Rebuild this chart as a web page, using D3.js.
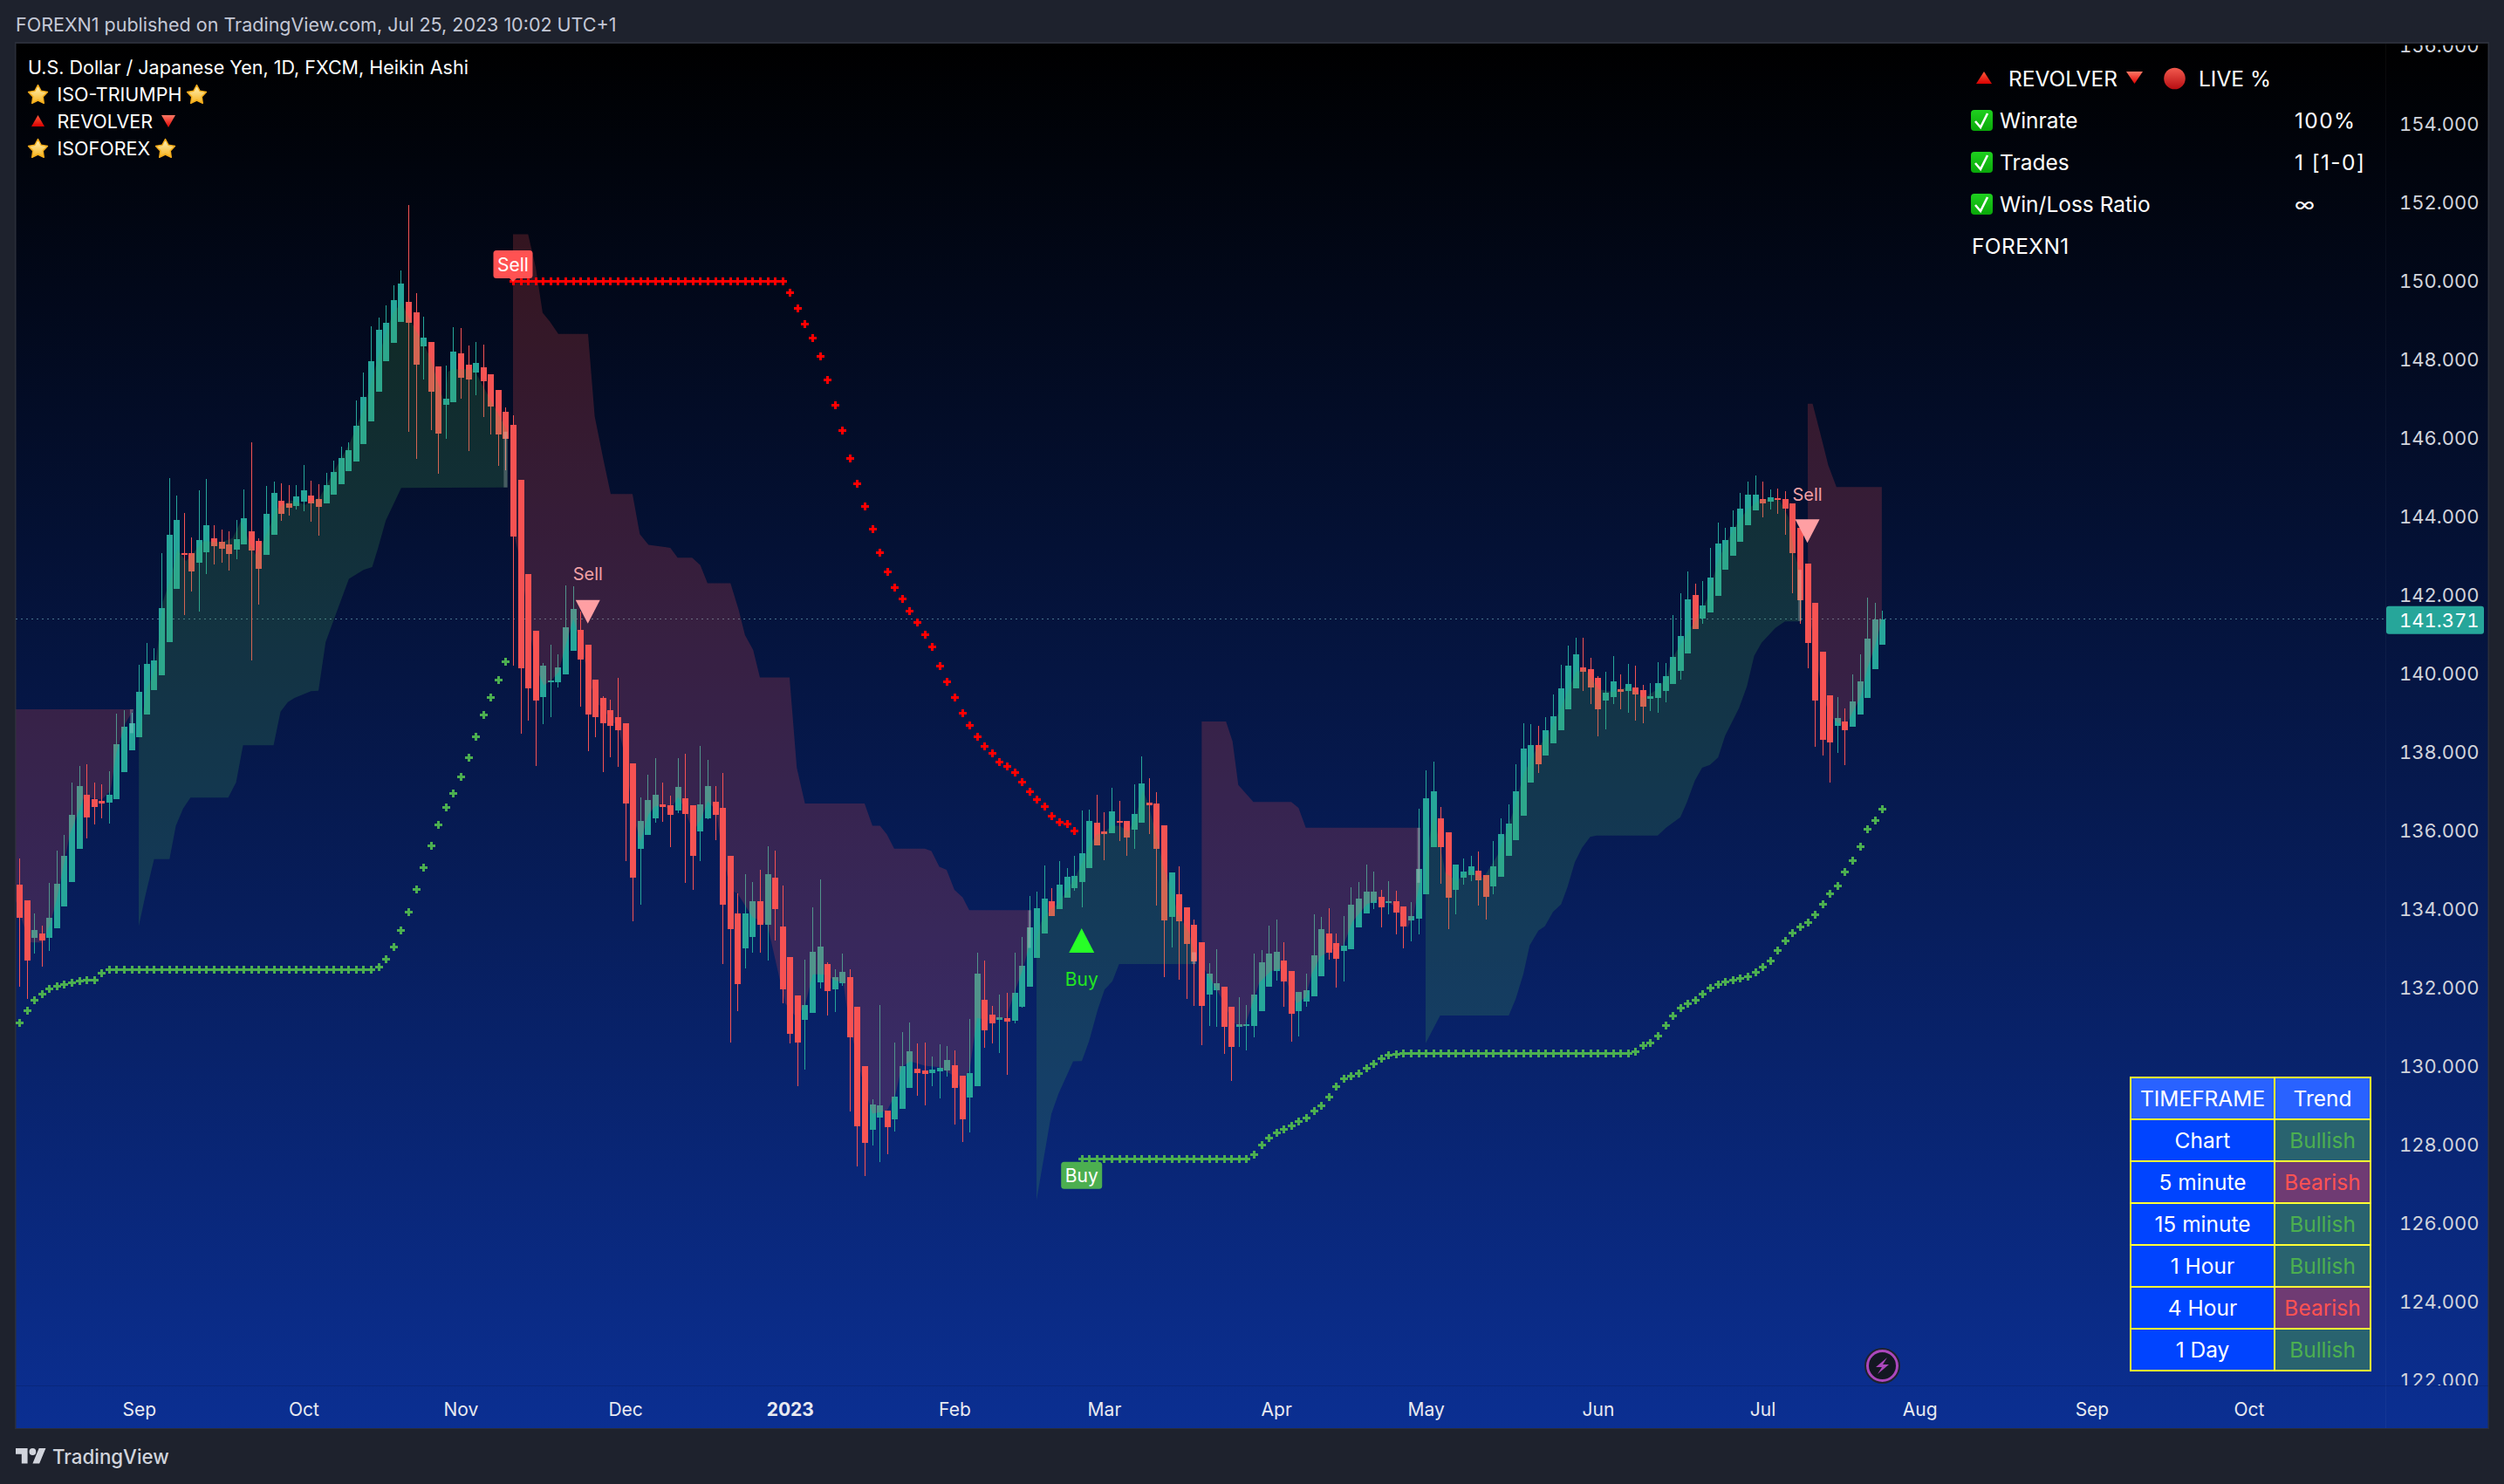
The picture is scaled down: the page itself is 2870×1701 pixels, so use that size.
<!DOCTYPE html>
<html><head><meta charset="utf-8"><title>USDJPY</title>
<script src="https://cdn.jsdelivr.net/npm/d3@7/dist/d3.min.js"></script>
<style>html,body{margin:0;padding:0;background:#1e222d}svg{display:block}text{font-family:Inter,Roboto,sans-serif}.tn{font-variant-numeric:tabular-nums}</style>
</head><body><svg id="c" width="2870" height="1701"></svg>
<script>
const opens=[134.62,134.22,133.27,133.38,133.27,133.51,134.07,134.69,135.53,136.91,136.80,136.75,136.71,136.80,137.49,138.04,138.38,138.95,139.58,139.95,140.80,142.15,143.07,143.07,142.82,143.09,143.44,143.36,143.29,143.16,143.29,143.62,143.38,143.02,143.53,144.40,144.33,144.27,144.38,144.53,144.44,144.33,144.56,144.82,145.16,145.40,145.84,146.42,147.18,147.96,148.42,148.96,149.47,149.20,148.33,148.44,147.82,146.85,146.92,148.15,147.87,147.67,147.80,147.62,147.22,146.67,146.33,144.93,142.53,141.09,139.41,139.79,139.77,139.97,140.57,141.11,140.74,139.84,139.38,139.07,138.89,138.73,137.71,135.53,135.89,136.32,136.67,136.65,136.51,136.83,136.65,135.98,136.32,136.74,136.58,135.35,133.9,133.0,133.3,134.2,133.6,134.8,133.56,132.78,131.80,131.18,131.36,132.14,132.60,131.96,132.11,132.27,131.51,130.00,128.38,128.69,128.87,128.65,128.91,129.45,129.94,129.89,129.83,129.87,129.89,130.03,129.76,129.20,129.49,131.69,131.31,131.18,131.23,131.16,131.51,132.02,132.76,133.38,134.20,134.00,134.29,134.53,134.69,135.04,136.20,135.98,135.93,136.24,136.24,136.02,136.20,136.71,136.69,136.13,133.80,134.38,134.05,133.60,133.16,131.82,131.93,132.02,131.51,131.00,131.02,131.02,131.40,132.02,132.42,132.69,132.42,131.40,131.64,131.78,132.29,133.38,133.13,132.93,132.98,133.53,133.89,134.16,134.31,134.16,134.20,134.07,133.71,133.76,134.38,135.58,136.31,135.96,134.49,134.80,134.87,134.98,134.87,134.58,134.82,135.36,135.76,136.38,137.22,138.18,137.91,138.22,138.56,139.09,139.62,140.16,140.11,139.89,139.31,139.40,139.60,139.56,139.64,139.58,139.36,139.38,139.56,139.73,140.07,140.51,142.0,141.40,141.55,141.97,142.64,143.00,143.35,143.77,144.15,144.44,144.38,144.47,144.44,144.33,143.71,142.80,141.80,140.56,139.44,138.67,138.78,138.64,138.96,139.38,140.11,140.73];
const highs=[135.29,134.22,133.89,133.58,134.67,135.49,135.89,137.22,137.64,137.69,137.22,137.18,137.51,138.98,139.07,139.00,140.22,140.78,140.64,143.07,144.98,144.53,144.09,143.47,144.67,144.95,143.78,143.67,143.62,143.91,144.69,145.89,143.44,144.78,144.89,144.84,144.80,144.80,145.31,144.91,144.82,145.11,145.42,145.78,145.89,146.96,147.67,148.84,149.07,149.38,149.89,150.27,151.93,149.69,149.09,148.44,147.82,147.85,148.82,148.80,148.36,148.45,148.38,147.62,147.22,146.78,146.58,144.93,142.53,141.09,140.26,140.74,140.49,142.25,142.22,141.57,140.74,139.84,139.42,139.33,139.89,138.73,137.71,136.85,137.43,137.85,137.22,136.88,137.85,137.96,136.65,138.15,137.80,137.13,137.46,135.35,134.4,134.9,134.7,135.0,135.6,135.5,134.6,132.78,131.80,132.71,134.05,134.76,132.65,132.47,132.87,132.47,131.51,130.00,129.16,131.56,128.87,130.60,130.87,131.11,130.58,130.60,130.25,130.56,130.51,130.40,129.76,131.20,132.89,132.69,131.54,131.82,131.87,132.89,133.29,134.33,134.45,135.11,134.53,135.22,135.04,135.36,136.51,136.53,136.91,136.47,137.09,136.76,136.24,137.18,137.89,137.33,136.98,136.13,134.93,135.09,134.05,133.73,133.16,132.62,132.98,132.02,131.51,131.76,131.56,132.87,132.96,133.58,133.73,133.16,132.42,131.89,132.36,133.87,133.80,134.02,133.38,133.82,134.55,134.69,135.13,134.96,134.49,134.71,134.47,134.07,134.18,136.56,137.53,137.76,136.60,135.96,135.13,135.29,135.36,135.47,134.87,135.73,136.31,136.67,137.69,138.73,138.71,138.67,138.89,139.47,140.22,140.71,140.91,140.91,140.40,139.93,140.04,140.44,139.98,140.24,140.20,139.71,139.76,140.29,140.27,141.49,142.04,142.6,142.3,142.35,143.20,143.84,143.71,144.15,144.60,144.89,145.04,144.89,144.69,144.71,144.64,144.33,143.71,142.80,141.80,140.56,139.44,139.40,139.11,139.98,140.49,141.93,141.80,141.60];
const lows=[132.02,131.71,132.87,132.53,132.93,133.51,134.07,134.69,135.53,135.80,136.15,136.31,136.18,136.80,137.49,138.04,138.38,138.95,139.58,139.95,140.80,142.15,141.49,142.09,141.58,142.53,142.78,142.82,142.62,142.91,143.29,140.33,141.76,143.02,143.53,143.89,144.02,144.18,144.13,143.87,143.51,144.33,144.56,144.82,145.16,145.40,145.84,146.42,147.18,147.96,148.42,148.96,146.16,145.47,147.49,146.20,145.10,145.97,146.92,146.99,145.66,147.10,146.54,146.08,145.30,145.17,140.19,138.46,138.79,137.65,138.72,138.88,139.64,139.97,140.57,139.16,138.03,138.37,137.50,137.86,137.63,135.22,133.69,134.12,135.89,136.21,136.23,135.58,136.44,134.66,134.50,135.23,136.29,135.75,132.6,130.6,131.4,132.5,132.9,132.9,132.7,133.2,131.6,130.58,129.49,129.91,131.36,131.98,131.29,131.38,132.05,128.85,127.45,127.20,127.98,127.56,127.76,128.34,128.91,129.45,129.25,129.00,129.49,129.18,129.74,128.51,128.07,128.31,129.49,130.47,130.58,130.34,129.78,131.09,131.49,132.02,132.76,133.38,133.82,134.00,134.29,134.47,134.05,135.04,135.62,135.24,135.93,135.73,135.36,135.53,136.20,135.91,134.09,132.27,133.02,132.20,131.71,131.53,130.53,131.02,131.00,130.31,129.62,130.49,130.40,130.73,131.40,132.02,132.18,131.51,130.62,130.76,131.51,131.78,132.29,132.71,132.00,132.16,132.98,133.53,133.89,134.00,133.53,133.87,133.36,133.00,133.18,133.36,134.38,135.58,134.64,133.49,133.87,134.62,134.71,134.09,133.73,134.38,134.82,135.36,135.76,136.38,137.22,137.47,137.91,138.22,138.56,139.09,139.62,139.56,139.22,138.40,138.58,139.22,139.09,139.00,138.80,138.73,139.04,139.00,139.27,139.73,139.84,140.51,141.13,141.27,141.55,141.97,142.64,143.00,143.35,143.77,144.15,143.97,144.18,144.07,143.53,142.04,141.27,140.13,138.13,137.91,137.22,137.98,137.67,138.64,138.96,139.38,140.11,140.73];
const closes=[133.78,132.69,133.47,133.20,133.78,134.64,135.35,136.40,137.13,136.33,136.60,136.69,136.91,138.20,138.64,138.73,139.53,140.24,140.33,141.67,143.53,143.91,143.02,142.60,143.40,143.78,143.24,143.18,143.04,143.42,143.96,143.13,142.67,144.07,144.60,144.07,144.22,144.51,144.67,144.33,144.24,144.80,145.13,145.49,145.69,146.31,147.04,147.96,148.76,148.93,149.51,149.93,148.93,147.87,148.56,147.18,146.12,146.99,148.20,147.53,147.48,147.92,147.44,146.80,146.09,145.98,143.49,140.14,139.62,139.32,140.21,139.83,140.16,141.18,141.65,140.36,138.95,138.90,138.74,138.67,138.56,136.68,134.79,136.25,136.78,136.91,136.60,136.40,137.11,136.42,135.35,136.67,137.13,136.40,134.11,133.5,132.1,133.9,134.2,133.6,134.9,134.0,131.96,130.82,130.60,131.56,132.91,133.05,131.91,132.27,132.40,130.74,128.47,128.05,129.03,129.00,128.45,129.23,130.00,130.38,129.83,129.80,129.91,129.96,130.16,129.45,128.65,129.83,132.36,130.91,131.09,131.25,131.13,131.87,132.56,133.53,134.02,134.27,133.82,134.62,134.82,134.84,135.42,136.24,135.62,135.91,136.49,136.20,135.82,136.42,137.20,136.64,135.53,133.71,134.93,133.69,133.11,132.67,131.53,132.36,132.11,131.00,130.49,131.07,131.07,131.82,132.64,132.87,132.91,132.16,131.33,131.89,131.93,132.82,133.49,132.89,132.73,133.07,134.11,134.27,134.44,134.44,134.05,134.20,133.91,133.56,133.82,135.02,136.82,137.00,135.58,134.29,135.13,134.96,135.09,134.73,134.31,135.09,135.91,136.18,137.00,138.09,138.18,137.69,138.56,138.91,139.62,140.20,140.49,140.04,139.64,139.09,139.51,139.80,139.53,139.73,139.47,139.16,139.42,139.76,139.93,140.42,140.96,141.9,141.13,141.73,142.44,143.31,143.40,143.73,144.20,144.55,144.55,144.33,144.49,144.42,144.20,143.07,141.87,140.78,139.31,138.31,138.24,138.87,138.56,139.29,139.80,140.89,141.38,141.37];

// Stop-line values: [first bar index, values...]
const greenStopA=[131.11,131.42,131.68,131.85,131.97,132.04,132.10,132.13,132.17,132.19,132.21,132.37,132.46,132.46,132.46,132.46,132.46,132.46,132.46,132.46,132.46,132.46,132.46,132.46,132.46,132.46,132.46,132.46,132.46,132.46,132.46,132.46,132.46,132.46,132.46,132.46,132.46,132.46,132.46,132.46,132.46,132.46,132.46,132.46,132.46,132.46,132.46,132.46,132.53,132.73,133.04,133.47,133.94,134.52,135.07,135.63,136.15,136.59,136.95,137.37,137.86,138.39,138.95,139.41,139.85,140.32];
const greenStopAStart=0;
const redStop=[150.01,150.01,150.01,150.01,150.01,150.01,150.01,150.01,150.01,150.01,150.01,150.01,150.01,150.01,150.01,150.01,150.01,150.01,150.01,150.01,150.01,150.01,150.01,150.01,150.01,150.01,150.01,150.01,150.01,150.01,150.01,150.01,150.01,150.01,150.01,150.01,150.01,149.71,149.30,148.92,148.55,148.10,147.48,146.84,146.19,145.48,144.85,144.26,143.69,143.1,142.6,142.2,141.9,141.6,141.3,141.0,140.7,140.2,139.8,139.4,139.0,138.7,138.4,138.15,137.97,137.75,137.64,137.48,137.24,136.99,136.79,136.62,136.37,136.22,136.17,135.99];
const redStopStart=66;
const greenStopB=[127.64,127.64,127.64,127.64,127.64,127.64,127.64,127.64,127.64,127.64,127.64,127.64,127.64,127.64,127.64,127.64,127.64,127.64,127.64,127.64,127.64,127.64,127.64,127.75,127.99,128.17,128.30,128.39,128.48,128.59,128.70,128.86,128.99,129.22,129.50,129.70,129.75,129.82,129.95,130.06,130.19,130.28,130.30,130.33,130.33,130.33,130.33,130.33,130.33,130.33,130.33,130.33,130.33,130.33,130.33,130.33,130.33,130.33,130.33,130.33,130.33,130.33,130.33,130.33,130.33,130.33,130.33,130.33,130.33,130.33,130.33,130.33,130.33,130.33,130.37,130.53,130.61,130.77,131.04,131.28,131.50,131.61,131.70,131.84,131.99,132.10,132.15,132.21,132.24,132.28,132.39,132.53,132.70,132.95,133.21,133.41,133.55,133.66,133.86,134.13,134.39,134.6,134.95,135.25,135.6,136.04,136.26,136.55];
const greenStopBStart=142;

// Cloud outlines as [bar index, price]
const cloudRedA=[[-0.43,139.09],[15.27,139.09],[14.14,138.71],[12.98,137.97],[12.2,137.01],[11.03,136.79],[8.7,136.86],[6.76,135.90],[5.05,134.27],[4.11,133.6],[3.07,133.15],[1.32,133.15],[-0.43,134.2]];
const cloudGreenB=[[15.97,133.56],[16.86,134.34],[18.03,135.27],[20.09,135.27],[20.94,136.12],[21.91,136.56],[22.89,136.84],[27.94,136.84],[28.99,137.23],[29.92,138.17],[34,138.17],[34.93,139.03],[35.91,139.27],[36.8,139.38],[39,139.55],[40,139.56],[40.96,140.80],[42.71,141.71],[44.07,142.41],[46.01,142.64],[47.18,142.71],[47.95,143.19],[49,143.90],[51.06,144.73],[65.26,144.74],[65.26,146.16],[64.68,146.38],[62.74,147.06],[60.79,147.75],[58.07,147.75],[57.29,147.69],[56.9,146.84],[54.95,148.04],[54,148.41],[52.03,149.08],[51.1,149.45],[49.9,149.16],[47.95,148.04],[46,146.71],[44.07,145.82],[42.1,145.16],[40.18,144.49],[38.24,144.3],[36.3,144.41],[34.35,144.19],[33.19,143.6],[31.63,143.01],[30.85,143.3],[29.69,143.9],[28.52,143.45],[26.97,143.34],[24.64,143.38],[22.3,142.86],[21.14,143.16],[20.36,142.49],[19.19,141.82],[18.65,140.86],[18.03,140.04],[17.06,139.6],[16,138.38]];
const cloudRedC=[[66,151.19],[68.02,151.19],[69.03,150.35],[69.96,149.19],[70.9,148.97],[72.06,148.65],[76.03,148.65],[76.92,146.55],[78.05,145.48],[79.06,144.57],[81.97,144.57],[82.95,143.55],[84.11,143.28],[86.05,143.23],[87.03,143.2],[88,142.95],[89.94,142.95],[91.03,142.76],[92,142.3],[95.07,142.3],[96.16,141.62],[97.01,140.98],[98.1,140.6],[99,139.9],[102.96,139.9],[103.93,137.6],[105.02,136.69],[112.99,136.69],[114.04,136.12],[115.05,136.12],[115.98,135.9],[116.95,135.54],[121.04,135.54],[121.93,135.48],[122.98,135.08],[123.95,135],[125,134.49],[126.09,134.3],[126.98,133.97],[135.22,133.97],[135.22,133.67],[135.03,133.08],[134.06,132.42],[133.08,131.9],[131.92,131.23],[129.59,131.16],[128.03,131.23],[127.02,129.9],[125.7,129.45],[124.92,129.75],[122.98,129.97],[121.04,130.01],[119.09,130.12],[117.93,129.97],[117.15,129.3],[115.98,128.86],[114.04,128.79],[112.87,129.53],[112.1,130.12],[110.93,131.08],[110.15,132.12],[108.99,132.19],[107.43,132.34],[106.07,132.34],[105.1,131.6],[103.93,131.23],[102.38,131.6],[100,133.6],[98,133.8],[96,134.4],[95.07,134.48],[94.02,135.39],[93.09,136.52],[92.04,136.75],[91.1,136.29],[90.06,135.95],[89.01,136.52],[88.08,136.86],[87.03,136.52],[86.09,136.63],[85.04,136.63],[84.11,136.41],[83.06,135.73],[82.01,136.41],[81.08,137.77],[80.03,138.67],[79.1,138.79],[78.05,139.13],[77.12,139.24],[76.07,139.92],[75.02,140.77],[74.08,141.4],[73.03,140.72],[72.1,140.04],[71.05,139.81],[70.12,139.7],[69.07,140.15],[68.02,141.4],[67.09,142.76],[66,143.66]];
const cloudGreenD=[[135.97,126.58],[137.95,128.78],[138.92,129.3],[140.87,130.12],[142.03,130.13],[143,130.64],[144.17,131.45],[145.07,131.95],[146.11,132.16],[147.01,132.6],[157.19,132.6],[157.19,132.79],[156.41,133.38],[154.86,133.9],[153.89,134.56],[153.03,135],[152.14,135.75],[150.97,136.64],[150.2,137.04],[149.22,136.34],[148.25,135.97],[147.09,136.12],[145.92,136.12],[144.95,135.93],[143.98,135.9],[143,135.6],[142.03,135.16],[141.06,134.79],[139.9,134.42],[138.73,134.12],[137.76,133.97],[136.59,133.67],[135.97,133.23]];
const cloudRedE=[[158.05,138.78],[161.3,138.78],[162.17,138.27],[162.94,137.16],[164.96,136.73],[170.02,136.73],[170.99,136.58],[171.96,136.07],[187.23,136.07],[187.23,134.71],[186.34,133.82],[185.56,133.53],[184.01,134.05],[182.06,134.27],[180.12,134.12],[178.18,133.67],[177.01,133.08],[175.85,133.01],[173.9,132.79],[172.74,132.34],[171.96,131.75],[170.79,131.6],[170.02,131.82],[168.85,132.49],[167.3,132.42],[165.74,132.12],[164.96,131.67],[163.8,131.01],[163.02,131.01],[162.05,131.16],[161.08,131.6],[159.52,132.12],[158.36,132.49],[158.05,133.23]];
const cloudGreenF=[[187.97,130.58],[189.92,131.29],[199.09,131.29],[200.02,131.71],[201.03,132.34],[201.89,133.08],[203.05,133.45],[203.91,133.56],[205,133.93],[206.09,134.12],[206.94,134.56],[207.91,135.19],[208.88,135.56],[209.97,135.84],[210.83,135.87],[218.99,135.87],[220.15,136.08],[222.02,136.34],[222.88,136.71],[223.96,137.27],[224.93,137.6],[225.98,137.67],[227.07,137.86],[228,138.41],[229.87,139.12],[230.92,139.67],[231.89,140.45],[232.9,140.79],[234.73,141.16],[236.01,141.33],[238.23,141.33],[238.23,141.9],[238.04,142.56],[237.26,143.08],[236.48,143.97],[235.31,144.41],[234.15,144.45],[232.59,144.41],[231.04,144.19],[229.87,143.9],[228.71,143.53],[227.15,142.93],[225.6,141.9],[224.82,141.6],[221.01,140.41],[220.15,139.9],[218.99,139.6],[217.05,139.38],[215.1,139.67],[213.08,139.53],[211.1,139.6],[209.27,140.12],[208.07,140.04],[206.16,139.16],[204.22,138.41],[202.67,138.04],[201.11,137.45],[199.56,136.41],[197.61,135.38],[195.67,134.79],[193.73,135.01],[192.17,134.71],[190.62,134.93],[189.06,136.41],[187.97,135.3]];
const cloudRedG=[[239.04,146.87],[239.7,146.87],[240.83,146.04],[241.8,145.3],[242.89,144.75],[248.95,144.75],[248.95,141.38],[248.06,140.71],[247.01,140.12],[246.08,139.38],[245.03,139.01],[244.1,138.64],[243.05,138.75],[242,138.93],[241.07,139.45],[240.02,140.56],[239.08,141.82]];
// Where two clouds overlap at a flip: [bar from, bar to, price top, price bottom]
const flipBands=[[14.8,15.27,139.09,138.48],[64.76,65.26,146.16,144.74],[134.83,135.22,133.97,133.01],[156.72,157.3,132.9,132.6],[186.84,187.23,136.07,134.67],[237.76,238.23,142.64,141.34]];

const yTicks=[122,124,126,128,130,132,134,136,138,140,142,144,146,148,150,152,154,156];
const xTickBars=[16,38,59,81,103,125,145,168,188,211,233,254,277,298];
const xTickLabels=["Sep","Oct","Nov","Dec","2023","Feb","Mar","Apr","May","Jun","Jul","Aug","Sep","Oct"];
const lastPrice=141.371;
// Signals: bar index plus the price of the marker's flat edge and of its caption
const sellBars=[76,239], sellEdge=[141.87,143.93], sellCaption=[142.53,144.56];
const buyBars=[142], buyEdge=[132.89], buyCaption=[132.21];
const tfNames=["Chart","5 minute","15 minute","1 Hour","4 Hour","1 Day"];
const tfTrend=["Bullish","Bearish","Bullish","Bullish","Bearish","Bullish"];

const svg=d3.select("#c");
const W=2870,H=1701;
const x=d3.scaleLinear().domain([0,249]).range([22,2157.3]);
const y=d3.scaleLinear().domain([122,154]).range([1582,142]);
const defs=svg.append("defs");
const bg=defs.append("linearGradient").attr("id","bg").attr("x1",0).attr("x2",0).attr("y1",0).attr("y2",1);
bg.append("stop").attr("offset",0).attr("stop-color","#000000");
bg.append("stop").attr("offset",1).attr("stop-color","#0b2f92");
function grad(id,a,b){const g=defs.append("linearGradient").attr("id",id).attr("x1",0).attr("x2",0).attr("y1",0).attr("y2",1);g.append("stop").attr("offset",0).attr("stop-color",a);g.append("stop").attr("offset",1).attr("stop-color",b);}
grad("gStar","#fff6c2","#f7b21c");grad("gUp","#ff5a3c","#d80000");grad("gDn","#ff7a66","#e00000");grad("gChk","#1fd01f","#09a809");grad("gRed","#f25a4e","#b80d12");
defs.append("clipPath").attr("id","plot").append("rect").attr("x",18).attr("y",50).attr("width",2716).attr("height",1538);
defs.append("clipPath").attr("id","pax").append("rect").attr("x",2735).attr("y",52).attr("width",116).attr("height",1536);

svg.append("rect").attr("width",W).attr("height",H).attr("fill","#1e222d");
svg.append("rect").attr("x",17).attr("y",48).attr("width",2836).attr("height",1590).attr("fill","#2a2e39");
svg.append("rect").attr("x",18.5).attr("y",50).attr("width",2833).attr("height",1587).attr("fill","url(#bg)");
svg.append("line").attr("x1",2734.5).attr("x2",2734.5).attr("y1",50).attr("y2",1637).attr("stroke","#ffffff").attr("stroke-opacity",0.04);
svg.append("line").attr("x1",18).attr("x2",2852).attr("y1",1588.5).attr("y2",1588.5).attr("stroke","#000000").attr("stroke-opacity",0.12);

const plot=svg.append("g").attr("clip-path","url(#plot)");
const bars=d3.range(opens.length);
plot.append("line").attr("x1",18).attr("x2",2734).attr("y1",Math.round(y(lastPrice))-0.5).attr("y2",Math.round(y(lastPrice))-0.5)
 .attr("stroke","#5d93a8").attr("stroke-opacity",0.75).attr("stroke-width",1).attr("stroke-dasharray","2 4");

const candles=plot.append("g").attr("shape-rendering","crispEdges");
const col=i=>closes[i]>=opens[i]?"#26a69a":"#f55353";
candles.selectAll("line").data(bars).join("line")
 .attr("x1",i=>Math.round(x(i))+0.5).attr("x2",i=>Math.round(x(i))+0.5)
 .attr("y1",i=>y(highs[i])).attr("y2",i=>y(lows[i])).attr("stroke",col).attr("stroke-width",1);
candles.selectAll("rect").data(bars).join("rect")
 .attr("x",i=>Math.round(x(i))-3).attr("width",7)
 .attr("y",i=>y(Math.max(opens[i],closes[i])))
 .attr("height",i=>Math.max(2,Math.abs(y(opens[i])-y(closes[i])))).attr("fill",col);

const outline=d3.line().x(d=>x(d[0])).y(d=>y(d[1]));
[[cloudRedA,"#ff5252"],[cloudGreenB,"#4caf50"],[cloudRedC,"#ff5252"],[cloudGreenD,"#4caf50"],[cloudRedE,"#ff5252"],[cloudGreenF,"#4caf50"],[cloudRedG,"#ff5252"]].forEach(([c,f])=>{
 plot.append("path").attr("d",outline(c)+"Z").attr("fill",f).attr("fill-opacity",0.2);
});
plot.selectAll("rect.flip").data(flipBands).join("rect").attr("class","flip")
 .attr("x",d=>x(d[0])).attr("width",d=>x(d[1])-x(d[0])).attr("y",d=>y(d[2])).attr("height",d=>y(d[3])-y(d[2]))
 .attr("fill","#ffffff").attr("fill-opacity",0.22);

const cross=d3.symbol().type(d3.symbolCross).size(45);
function stops(vals,start,color){
 plot.append("g").attr("shape-rendering","crispEdges").selectAll("path").data(vals).join("path").attr("d",cross)
  .attr("transform",(v,k)=>`translate(${Math.round(x(start+k))+0.5},${Math.round(y(v))})`).attr("fill",color);
}
stops(greenStopA,greenStopAStart,"#4caf50");stops(redStop,redStopStart,"#ff0000");stops(greenStopB,greenStopBStart,"#4caf50");

// Signals
sellBars.forEach((b,k)=>{
 const cx=x(b),e=y(sellEdge[k]);
 plot.append("path").attr("d",`M${cx-14},${e}L${cx+14},${e}L${cx},${e+27}Z`).attr("fill","#ff9fa3");
 plot.append("text").attr("x",cx).attr("y",y(sellCaption[k])).attr("text-anchor","middle").attr("dominant-baseline","central").attr("font-size",20).attr("fill","#f0a0a4").text("Sell");
});
buyBars.forEach((b,k)=>{
 const cx=x(b),e=y(buyEdge[k]);
 plot.append("path").attr("d",`M${cx-14.5},${e}L${cx+14.5},${e}L${cx},${e-28}Z`).attr("fill","#27ff27");
 plot.append("text").attr("x",cx).attr("y",y(buyCaption[k])).attr("text-anchor","middle").attr("dominant-baseline","central").attr("font-size",21).attr("fill","#22e522").text("Buy");
});
function badge(cx,top,w,h,fill,label){
 const g=plot.append("g");
 g.append("rect").attr("x",cx-w/2).attr("y",top).attr("width",w).attr("height",h).attr("rx",3.5).attr("fill",fill);
 g.append("text").attr("x",cx).attr("y",top+h/2+0.5).attr("text-anchor","middle").attr("dominant-baseline","central").attr("font-size",21).attr("fill","#fff").text(label);
}
badge(x(66),y(150.78),45,32,"#ff5252","Sell");
plot.append("path").attr("d",`M${x(66)-4},${y(150.78)+32} L${x(66)+4},${y(150.78)+32} L${x(66)},${y(150.78)+36}Z`).attr("fill","#ff5252");
badge(x(142),y(127.56),47,31,"#4caf50","Buy");

// Axes
const yAxis=d3.axisRight(y).tickValues(yTicks).tickSize(0).tickPadding(0).tickFormat(d3.format(".3f"));
const yg=svg.append("g").attr("clip-path","url(#pax)").append("g").attr("transform","translate(2750,0)").call(yAxis);
yg.select(".domain").remove();
yg.selectAll("text").attr("font-size",22).attr("font-family","Inter").attr("fill","#d1d4dc").attr("dy","0.36em").attr("class","tn");
const xAxis=d3.axisBottom(x).tickValues(xTickBars).tickSize(0).tickPadding(0).tickFormat((d,i)=>xTickLabels[i]);
const xg=svg.append("g").attr("transform","translate(0,1588)").call(xAxis);
xg.select(".domain").remove();
xg.selectAll("text").attr("font-size",21).attr("font-family","Inter").attr("fill","#e8eaf0").attr("y",27).attr("dy","0.36em")
 .attr("font-weight",(d,i)=>xTickLabels[i]==="2023"?700:400);

// Last price tag
svg.append("rect").attr("x",2735).attr("y",y(lastPrice)-15.5).attr("width",112).attr("height",32).attr("rx",3).attr("fill","#26a69a");
svg.append("text").attr("class","tn").attr("x",2750).attr("y",y(lastPrice)+1).attr("dominant-baseline","central").attr("font-size",22).attr("fill","#fff").text(d3.format(".3f")(lastPrice));

// Header/footer
const T=(px,py,s,size,fill,opt={})=>svg.append("text").attr("x",px).attr("y",py).attr("dominant-baseline","central").attr("font-size",size).attr("fill",fill).attr("text-anchor",opt.a||"start").attr("font-weight",opt.w||400).attr("letter-spacing",opt.ls||0).text(s);
T(18,28,"FOREXN1 published on TradingView.com, Jul 25, 2023 10:02 UTC+1",21.5,"#c4c8d6");
const legendRows=["U.S. Dollar / Japanese Yen, 1D, FXCM, Heikin Ashi","ISO-TRIUMPH","REVOLVER","ISOFOREX"];
T(32,77,legendRows[0],21.5,"#ffffff");
T(65.5,108,legendRows[1],21.5,"#ffffff");
T(65.5,139,legendRows[2],21.5,"#ffffff");
T(65.5,170,legendRows[3],21.5,"#ffffff");
const starShape=d3.lineRadial().angle((d,k)=>k*Math.PI/5).radius(d=>d)([11.5,6,11.5,6,11.5,6,11.5,6,11.5,6])+"Z";
const star=(cx,cy)=>svg.append("path").attr("d",starShape).attr("transform",`translate(${cx},${cy+1})`).attr("fill","url(#gStar)").attr("stroke","#f5ad1b").attr("stroke-width",1.5).attr("stroke-linejoin","round");
star(43.5,108);star(225.5,108);star(43.5,170);star(189.5,170);
const upT=(x0,x1,y0,y1)=>svg.append("path").attr("d",`M${(x0+x1)/2},${y0}L${x1},${y1}L${x0},${y1}Z`).attr("fill","url(#gUp)");
const dnT=(x0,x1,y0,y1)=>svg.append("path").attr("d",`M${x0},${y0}L${x1},${y0}L${(x0+x1)/2},${y1}Z`).attr("fill","url(#gDn)");
upT(36,51,132,145);dnT(185,201,132,146);

// Stats block
upT(2265,2283,82,96);dnT(2437,2456,82,96);
T(2302,90,"REVOLVER",24.5,"#fff");
svg.append("circle").attr("cx",2492.5).attr("cy",90).attr("r",12.3).attr("fill","url(#gRed)");
T(2520,90,"LIVE %",24.5,"#fff");
const stat=[["Winrate","100%"],["Trades","1 [1-0]"],["Win/Loss Ratio","∞"]];
stat.forEach((r,k)=>{
 const cy=138+k*48;
 svg.append("rect").attr("x",2259).attr("y",cy-12).attr("width",25).attr("height",24).attr("rx",4).attr("fill","url(#gChk)");
 svg.append("path").attr("d",`M${2264},${cy+1}L${2270},${cy+8}L${2278},${cy-8}`).attr("fill","none").attr("stroke","#fff").attr("stroke-width",2.6);
 T(2292,cy,r[0],24.5,"#fff");
 T(2630,cy,r[1],24.5,"#fff",{ls:1.4});
});
T(2260,282,"FOREXN1",24.5,"#fff",{ls:0.4});

// Timeframe table
const rowY=[1235,1283,1331,1379,1427,1475,1523,1571];
const colX=[2442,2607,2717];
const rows=[["TIMEFRAME","Trend"]].concat(tfNames.map((n,i)=>[n,tfTrend[i]]));
rows.forEach((r,k)=>{
 const isH=k===0,bull=r[1]==="Bullish";
 svg.append("rect").attr("x",colX[0]).attr("y",rowY[k]).attr("width",colX[1]-colX[0]).attr("height",rowY[k+1]-rowY[k]).attr("fill",isH?"#2962ff":"#0044ff").attr("stroke","#ffff33").attr("stroke-width",2);
 svg.append("rect").attr("x",colX[1]).attr("y",rowY[k]).attr("width",colX[2]-colX[1]).attr("height",rowY[k+1]-rowY[k]).attr("fill",isH?"#2962ff":(bull?"#29636f":"#6f3b73")).attr("stroke","#ffff33").attr("stroke-width",2);
 T((colX[0]+colX[1])/2,(rowY[k]+rowY[k+1])/2,r[0],24.5,"#fff",{a:"middle"});
 T((colX[1]+colX[2])/2,(rowY[k]+rowY[k+1])/2,r[1],24.5,isH?"#fff":(bull?"#4caf50":"#ff5252"),{a:"middle"});
});

// Bolt icon
svg.append("circle").attr("cx",2157.5).attr("cy",1565.5).attr("r",19.5).attr("fill","#131722").attr("stroke","#1e222d").attr("stroke-width",2);
svg.append("circle").attr("cx",2157.5).attr("cy",1565.5).attr("r",17).attr("fill","none").attr("stroke","#ab47bc").attr("stroke-width",3);
svg.append("path").attr("d","M2163,1556 L2150,1567 L2157,1567 L2152,1575 L2165,1564 L2158,1564 Z").attr("fill","#ab47bc");

// Footer logo
svg.append("path").attr("transform","translate(18,1660) scale(0.97)").attr("d","M14 18H7V7H0V0h14v18zM28 18h-8L27.5 0h8L28 18z").attr("fill","#d1d4dc");
svg.append("circle").attr("cx",37.4).attr("cy",1664).attr("r",3.9).attr("fill","#d1d4dc");
T(60,1669,"TradingView",22.3,"#d1d4dc",{w:500});
</script></body></html>
